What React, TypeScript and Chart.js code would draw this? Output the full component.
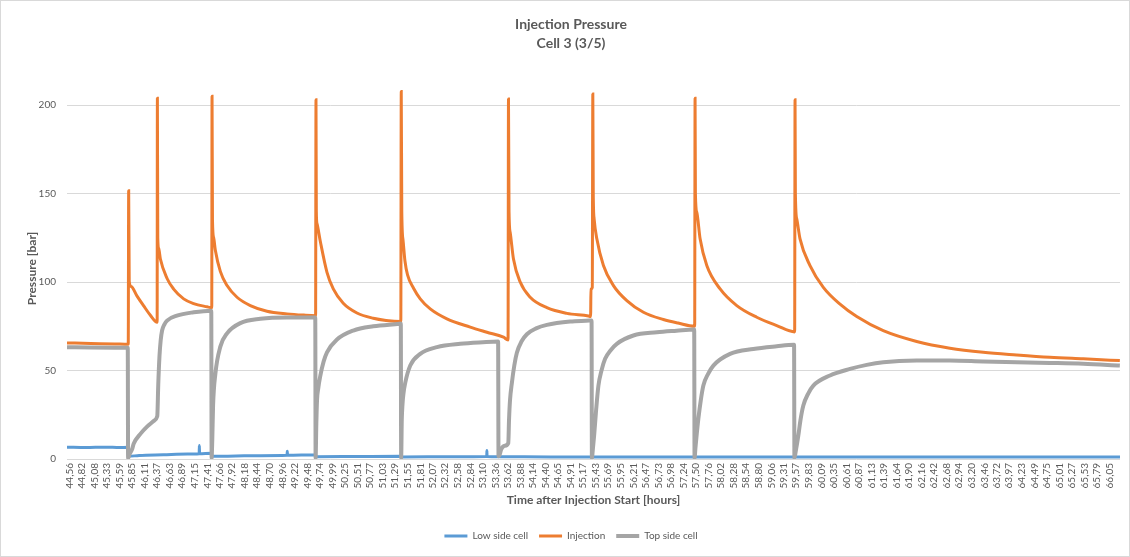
import { useEffect, useRef } from 'react';
import { Chart, registerables } from 'chart.js';

Chart.register(...registerables);

const FONT = "Lato, 'Open Sans', sans-serif";
const TEXT_COLOR = '#595959';
const GRID_COLOR = '#d9d9d9';

const TITLE = ['Injection Pressure', 'Cell 3 (3/5)'];
const X_TITLE = 'Time after Injection Start [hours]';
const Y_TITLE = 'Pressure [bar]';

const TICK_LABELS = [
  '44,56', '44,82', '45,08', '45,33', '45,59', '45,85', '46,11', '46,37', '46,63', '46,89',
  '47,15', '47,41', '47,66', '47,92', '48,18', '48,44', '48,70', '48,96', '49,22', '49,48',
  '49,74', '49,99', '50,25', '50,51', '50,77', '51,03', '51,29', '51,55', '51,81', '52,07',
  '52,32', '52,58', '52,84', '53,10', '53,36', '53,62', '53,88', '54,14', '54,40', '54,65',
  '54,91', '55,17', '55,43', '55,69', '55,95', '56,21', '56,47', '56,73', '56,98', '57,24',
  '57,50', '57,76', '58,02', '58,28', '58,54', '58,80', '59,06', '59,31', '59,57', '59,83',
  '60,09', '60,35', '60,61', '60,87', '61,13', '61,39', '61,64', '61,90', '62,16', '62,42',
  '62,68', '62,94', '63,20', '63,46', '63,72', '63,97', '64,23', '64,49', '64,75', '65,01',
  '65,27', '65,53', '65,79', '66,05',
];
const Y_TICKS = [0, 50, 100, 150, 200];
const X_MIN = 44.51;
const X_MAX = 66.26;
const Y_MAX = 215.4;

// Low side cell
const LOW_T = [
  44.51, 44.9, 45.3, 45.6, 45.765, 45.775, 46.0, 46.5, 47.0, 47.24, 47.244, 47.248, 47.49,
  47.5, 48.0, 48.5, 49.055, 49.06, 49.065, 49.64, 49.65, 50.5, 51.41, 51.42, 52.5, 53.18,
  53.183, 53.186, 53.42, 54.5, 55.35, 56.5, 57.47, 58.5, 59.53, 61.0, 62.5, 64.0, 65.5, 66.26,
];
const LOW_P = [
  6.7, 6.5, 6.7, 6.5, 6.6, 1.5, 2.0, 2.4, 2.8, 3.0, 7.6, 3.0, 3.2,
  1.5, 1.7, 1.9, 2.1, 4.4, 2.1, 2.3, 1.3, 1.4, 1.5, 1.2, 1.3, 1.4,
  4.8, 1.4, 1.3, 1.2, 1.2, 1.1, 1.2, 1.1, 1.2, 1.1, 1.2, 1.1, 1.2, 1.1,
];

// Injection
const INJ_T = [
  44.51, 45.0, 45.5, 45.775, 45.784, 45.795, 45.834, 45.957, 46.094, 46.232, 46.372,
  46.377, 46.385, 46.404, 46.439, 46.577, 46.713, 46.92, 47.126, 47.403, 47.5,
  47.506, 47.515, 47.539, 47.574, 47.677, 47.816, 48.022, 48.297, 48.641, 49.054, 49.4, 49.645,
  49.653, 49.66, 49.674, 49.742, 49.88, 50.01, 50.216, 50.499, 50.836, 51.1, 51.405,
  51.414, 51.425, 51.45, 51.49, 51.544, 51.668, 51.806, 52.013, 52.357, 52.839, 53.183, 53.526, 53.62,
  53.629, 53.64, 53.664, 53.732, 53.871, 54.077, 54.422, 54.835, 55.281, 55.325, 55.333, 55.36,
  55.371, 55.38, 55.398, 55.454, 55.59, 55.797, 56.073, 56.416, 56.829, 57.132, 57.475,
  57.483, 57.49, 57.518, 57.587, 57.725, 58.0, 58.344, 58.757, 59.17, 59.54,
  59.548, 59.555, 59.583, 59.651, 59.857, 60.132, 60.477, 60.822, 61.37, 62.06, 62.747, 63.435,
  64.124, 64.812, 65.5, 66.257,
];
const INJ_P = [
  65.6, 65.3, 65.0, 64.8, 151.6, 100.5, 97.5, 92, 86.5, 81.2, 77.3,
  203.8, 125, 119, 113, 102, 96, 90.5, 87.8, 86, 85.5,
  205, 135, 125, 118, 106, 98, 91.4, 86.7, 83.5, 82, 81.3, 81,
  203, 140, 133, 123, 105.5, 96.1, 88, 82.5, 79.5, 78.3, 77.7,
  207.6, 140, 124, 112, 104, 96.5, 90.5, 84.8, 79.2, 74.5, 71.6, 68.8, 67.3,
  203.4, 140, 128, 113, 100, 91.4, 85.5, 82.3, 80.8, 80.5, 96, 97,
  206.3, 150, 135.7, 124.4, 109.3, 98, 89.5, 82.9, 78.8, 76.8, 75,
  203.8, 150, 139.4, 124.4, 109.3, 96.1, 86.7, 80.1, 75.4, 71.8,
  203, 150, 135.7, 124.4, 109.3, 97, 87.5, 80.5, 72.5, 66.4, 62.6, 60.3,
  58.8, 57.5, 56.6, 55.6,
];

// Top side cell
const TOP_T = [
  44.51, 45.0, 45.5, 45.765, 45.772, 45.8, 45.854, 45.887, 46.026, 46.164, 46.3, 46.372,
  46.377, 46.395, 46.42, 46.445, 46.474, 46.52, 46.577, 46.78, 47.126, 47.49,
  47.497, 47.51, 47.527, 47.574, 47.677, 47.816, 48.09, 48.503, 49.054, 49.638,
  49.645, 49.66, 49.674, 49.7, 49.742, 49.81, 49.88, 50.087, 50.423, 50.836, 51.373, 51.405,
  51.412, 51.425, 51.44, 51.46, 51.496, 51.6, 51.806, 52.151, 52.632, 53.1, 53.415,
  53.423, 53.44, 53.48, 53.55, 53.625, 53.64, 53.66, 53.699, 53.75, 53.802, 53.9, 54.009,
  54.2, 54.422, 54.903, 55.3, 55.345,
  55.352, 55.37, 55.398, 55.44, 55.487, 55.55, 55.625, 55.74, 55.867, 56.209, 56.693, 57.1, 57.465,
  57.472, 57.49, 57.51, 57.551, 57.6, 57.654, 57.75, 57.861, 58.206, 58.687, 59.17, 59.528,
  59.535, 59.56, 59.616, 59.66, 59.719, 59.82, 59.926, 60.27, 60.683, 61.028, 61.37, 62.06,
  62.747, 63.435, 64.124, 64.812, 65.5, 66.257,
];
const TOP_P = [
  63.2, 63.0, 62.9, 62.9, 0.5, 2.5, 5.5, 8.6, 14.2, 18.3, 21.5, 24,
  25, 42, 58, 67, 72.6, 76, 78.2, 81, 82.9, 83.8,
  0.5, 10, 30, 48, 63.5, 71, 76.8, 79.2, 80, 80,
  0.5, 20, 33, 40, 47, 55, 60.3, 67.5, 72.6, 75, 76.4, 76.5,
  0.5, 22, 31, 37, 43, 52.8, 59.4, 63.2, 65.1, 66, 66.4,
  1.5, 2, 5.5, 7.5, 9, 22, 33, 43, 53, 60, 66.5, 70.5,
  73.8, 75.8, 77.7, 78.2, 78.3,
  0.5, 5, 13.3, 28, 41.5, 50, 56.6, 61.5, 65.1, 69.8, 71.6, 72.5, 73.2,
  0.5, 6, 12, 22.7, 33, 41.5, 48, 52.8, 59.4, 62.2, 63.7, 64.5,
  0.5, 4, 13.3, 22, 30.2, 37, 41.5, 47.2, 50.9, 53.2, 54.7, 55.6,
  55.6, 55.1, 54.7, 54.3, 53.8, 52.8,
];

const toXY = (t: number[], p: number[]) => t.map((x, i) => ({ x, y: p[i] }));

export default function App() {
  const ref = useRef<HTMLCanvasElement>(null);

  useEffect(() => {
    document.body.style.margin = '0';
    const canvas = ref.current;
    if (!canvas) return;
    const chart = new Chart(canvas, {
      type: 'line',
      data: {
        datasets: [
          {
            label: 'Low side cell',
            data: toXY(LOW_T, LOW_P),
            borderColor: '#5B9BD5',
            backgroundColor: '#5B9BD5',
            borderWidth: 3,
            pointRadius: 0,
            pointStyle: 'line',
            cubicInterpolationMode: 'monotone',
            order: 2,
          },
          {
            label: 'Injection',
            data: toXY(INJ_T, INJ_P),
            borderColor: '#ED7D31',
            backgroundColor: '#ED7D31',
            borderWidth: 3,
            pointRadius: 0,
            pointStyle: 'line',
            cubicInterpolationMode: 'monotone',
            order: 1,
          },
          {
            label: 'Top side cell',
            data: toXY(TOP_T, TOP_P),
            borderColor: '#A5A5A5',
            backgroundColor: '#A5A5A5',
            borderWidth: 4,
            pointRadius: 0,
            pointStyle: 'line',
            cubicInterpolationMode: 'monotone',
            order: 0,
          },
        ],
      },
      options: {
        responsive: false,
        animation: false,
        layout: { padding: { left: 22, right: 10, top: 0, bottom: 6 } },
        plugins: {
          title: {
            display: true,
            text: TITLE,
            color: TEXT_COLOR,
            font: { family: FONT, size: 14, weight: 'bold', lineHeight: 1.35 },
            padding: { top: 15, bottom: 25 },
          },
          legend: {
            position: 'bottom',
            labels: {
              usePointStyle: true,
              pointStyleWidth: 23,
              boxHeight: 3,
              color: TEXT_COLOR,
              font: { family: FONT, size: 10 },
              padding: 11,
              sort: (a: any, b: any) => a.datasetIndex - b.datasetIndex,
            },
          },
          tooltip: { enabled: false },
        },
        scales: {
          x: {
            type: 'linear',
            min: X_MIN,
            max: X_MAX,
            afterBuildTicks: (scale: any) => {
              scale.ticks = TICK_LABELS.map((l) => ({ value: parseFloat(l.replace(',', '.')) }));
            },
            afterFit: (scale: any) => {
              scale.height = 61;
            },
            ticks: {
              autoSkip: false,
              minRotation: 90,
              maxRotation: 90,
              padding: 4,
              color: TEXT_COLOR,
              font: { family: FONT, size: 10 },
              callback: (_v: any, i: number) => TICK_LABELS[i],
            },
            grid: { display: false, drawTicks: false },
            border: { display: false },
            title: {
              display: true,
              text: X_TITLE,
              color: TEXT_COLOR,
              font: { family: FONT, size: 12, weight: 'bold', lineHeight: 1.2 },
              padding: { top: 0, bottom: 13 },
            },
          },
          y: {
            min: 0,
            max: Y_MAX,
            afterBuildTicks: (scale: any) => {
              scale.ticks = Y_TICKS.map((v) => ({ value: v }));
            },
            afterFit: (scale: any) => {
              scale.width = 45;
            },
            ticks: {
              padding: 11,
              color: TEXT_COLOR,
              font: { family: FONT, size: 10 },
            },
            grid: { color: GRID_COLOR, drawTicks: false, lineWidth: 1 },
            border: { display: false },
            title: {
              display: true,
              text: Y_TITLE,
              color: TEXT_COLOR,
              font: { family: FONT, size: 12, weight: 'bold', lineHeight: 1.2 },
              padding: { top: 3, bottom: 0 },
            },
          },
        },
      } as any,
    });
    return () => chart.destroy();
  }, []);

  return (
    <div style={{ position: 'relative', width: 1130, height: 557, background: '#fff' }}>
      <canvas ref={ref} width={1130} height={557} style={{ display: 'block' }} />
      <div
        style={{
          position: 'absolute',
          left: 0,
          top: 0,
          width: 1128,
          height: 555,
          border: `1px solid ${GRID_COLOR}`,
          pointerEvents: 'none',
        }}
      />
    </div>
  );
}
